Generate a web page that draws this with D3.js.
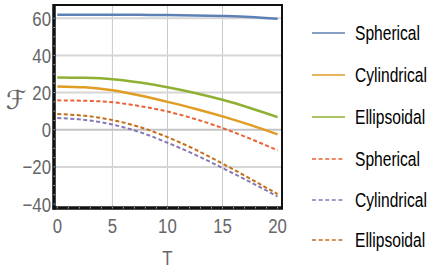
<!DOCTYPE html>
<html><head><meta charset="utf-8">
<script src="https://cdn.jsdelivr.net/npm/d3@7"></script>
<style>body{margin:0;background:#fff}svg{display:block}</style>
</head><body>
<script>
const T = [0, 2.5, 5, 7.5, 10, 12.5, 15, 17.5, 20];
const sphericalSolid   = [61.8, 61.8, 61.8, 61.8, 61.7, 61.5, 61.2, 60.7, 59.7];
const cylindricalSolid = [23.3, 22.8, 21.2, 18.4, 15.0, 11.3, 7.2, 2.6, -2.5];
const ellipsoidalSolid = [28.1, 27.9, 27.2, 25.4, 22.9, 19.8, 16.1, 11.7, 6.8];
const sphericalDashed   = [15.8, 15.6, 14.8, 12.7, 9.8, 5.8, 0.9, -4.8, -11.1];
const cylindricalDashed = [6.3, 5.3, 2.8, -1.3, -7.0, -13.4, -20.6, -28.1, -35.9];
const ellipsoidalDashed = [8.4, 7.5, 5.2, 1.4, -4.0, -10.6, -18.2, -26.3, -34.6];
const seriesNames = ["Spherical", "Cylindrical", "Ellipsoidal", "Spherical", "Cylindrical", "Ellipsoidal"];
const xTicks = [0, 5, 10, 15, 20];
const yTicks = [-40, -20, 0, 20, 40, 60];

const series = [
  {name: seriesNames[0], values: sphericalSolid, color: "#5E81B5", dashed: false},
  {name: seriesNames[1], values: cylindricalSolid, color: "#E19C24", dashed: false},
  {name: seriesNames[2], values: ellipsoidalSolid, color: "#8FB032", dashed: false},
  {name: seriesNames[3], values: sphericalDashed, color: "#EB6235", dashed: true},
  {name: seriesNames[4], values: cylindricalDashed, color: "#8778B3", dashed: true},
  {name: seriesNames[5], values: ellipsoidalDashed, color: "#C56E1A", dashed: true}
];

const W = 436, H = 273;
const L = 54, R = 282, Tp = 5, B = 208;
const svg = d3.select("body").append("svg").attr("width", W).attr("height", H);
const x = d3.scaleLinear().domain([-0.3, 20.4]).range([L, R]);
const y = d3.scaleLinear().domain([-42.1, 67.1]).range([B, Tp]);
const font = "'Liberation Sans', Arial, sans-serif";
const SX = 0.8;

// grid
svg.append("g").selectAll("line").data([5, 10, 15]).join("line")
  .attr("x1", d => x(d)).attr("x2", d => x(d)).attr("y1", Tp).attr("y2", B)
  .attr("stroke", "#c8c8c8").attr("stroke-width", 1);
svg.append("g").selectAll("line").data([-20, 0, 20, 40, 60]).join("line")
  .attr("x1", L).attr("x2", R).attr("y1", d => y(d)).attr("y2", d => y(d))
  .attr("stroke", d => d === 0 ? "#c4c4c4" : "#d6d6d6").attr("stroke-width", 2);

// lines
const line = d3.line().x((d, i) => x(T[i])).y(d => y(d)).curve(d3.curveMonotoneX);
svg.append("g").selectAll("path").data(series).join("path")
  .attr("d", d => line(d.values)).attr("fill", "none")
  .attr("stroke", d => d.color).attr("stroke-width", d => d.dashed ? 2 : 2.5)
  .attr("stroke-dasharray", d => d.dashed ? "4,2.5" : null);

// frame
svg.append("rect").attr("x", L).attr("y", Tp).attr("width", R - L).attr("height", B - Tp)
  .attr("fill", "none").attr("stroke", "#111").attr("stroke-width", 2);
svg.append("line").attr("x1", L).attr("x2", L).attr("y1", Tp - 1).attr("y2", B + 1.5)
  .attr("stroke", "#111").attr("stroke-width", 3.5);
svg.append("line").attr("x1", L - 1.5).attr("x2", R + 1).attr("y1", B).attr("y2", B)
  .attr("stroke", "#111").attr("stroke-width", 3.5);
svg.append("g").selectAll("line").data(d3.range(0, 21, 1)).join("line")
  .attr("x1", d => x(d)).attr("x2", d => x(d)).attr("y1", B - 1).attr("y2", B + 0.5)
  .attr("stroke", "#aaa").attr("stroke-width", 1);
svg.append("g").selectAll("line").data(d3.range(-40, 65, 5)).join("line")
  .attr("x1", L - 0.5).attr("x2", L + 1).attr("y1", d => y(d)).attr("y2", d => y(d))
  .attr("stroke", "#aaa").attr("stroke-width", 1);

// tick labels (horizontally condensed)
svg.append("g").selectAll("text").data(xTicks).join("text")
  .attr("transform", d => `translate(${x(d)},233) scale(${SX},1)`).attr("text-anchor", "middle")
  .attr("font-family", font).attr("font-size", 21).attr("fill", "#666")
  .text(d => d);
svg.append("g").selectAll("text").data(yTicks).join("text")
  .attr("transform", d => `translate(${L - 3},${y(d) + 7.5}) scale(${SX},1)`).attr("text-anchor", "end")
  .attr("font-family", font).attr("font-size", 21).attr("fill", "#666")
  .text(d => d < 0 ? "\u2212" + Math.abs(d) : d);

// axis labels
svg.append("text").attr("transform", `translate(${x(10)},265) scale(${SX},1)`).attr("text-anchor", "middle")
  .attr("font-family", font).attr("font-size", 21).attr("fill", "#666").text("T");
svg.append("text").attr("x", 16).attr("y", 109).attr("text-anchor", "middle")
  .attr("font-family", "'DejaVu Sans', sans-serif")
  .attr("font-size", 26).attr("fill", "#666").text("\u2131");

// legend
const rowsY = [33, 75, 117, 159, 200, 240];
const lg = svg.append("g").selectAll("g").data(series).join("g")
  .attr("transform", (d, i) => `translate(0,${rowsY[i]})`);
lg.append("line").attr("x1", 312).attr("x2", 345).attr("y1", 0).attr("y2", 0)
  .attr("stroke", d => d.color).attr("stroke-width", 1.6)
  .attr("stroke-dasharray", d => d.dashed ? "4,2.6" : null);
lg.append("text").attr("transform", `translate(355,7) scale(${SX},1)`)
  .attr("font-family", font).attr("font-size", 19.5).attr("fill", "#000")
  .text(d => d.name);
</script>
</body></html>
